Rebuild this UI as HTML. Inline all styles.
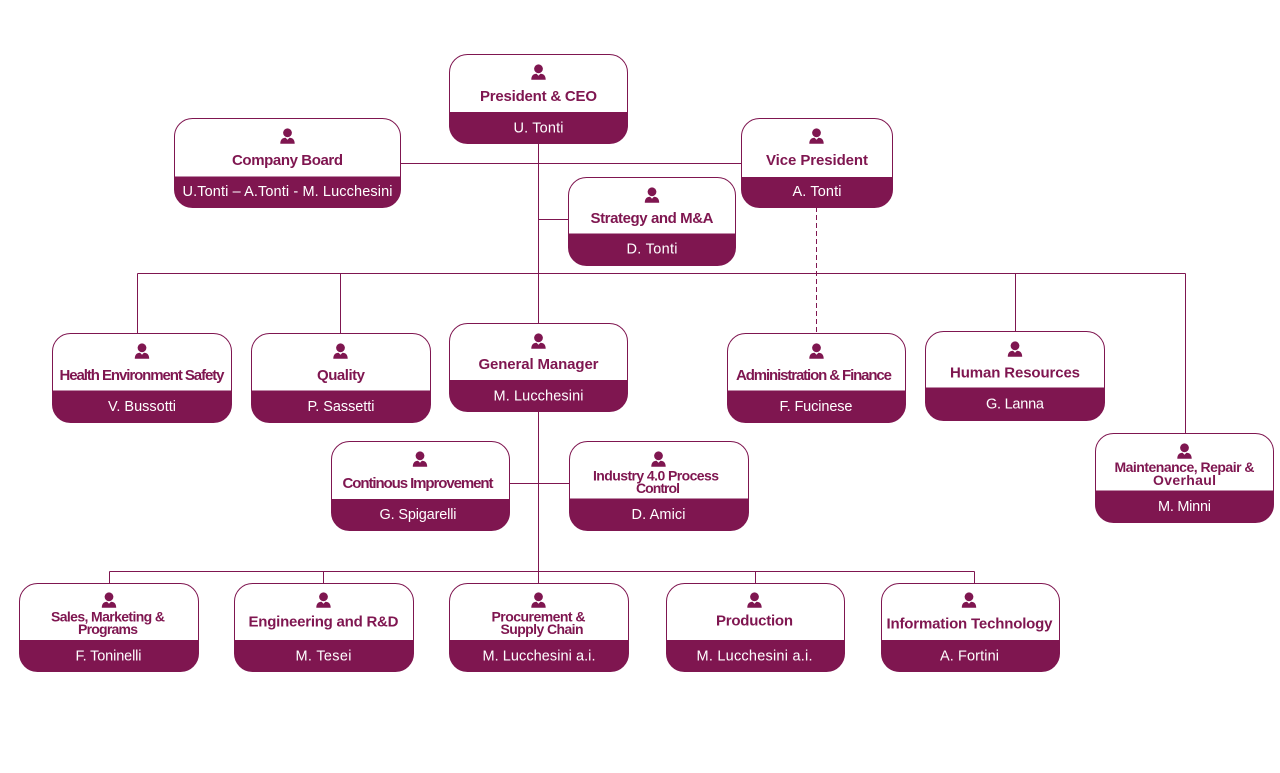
<!DOCTYPE html>
<html><head><meta charset="utf-8"><style>
html,body{margin:0;padding:0;background:#fff;}
svg{display:block;}
text{font-family:"Liberation Sans",Arial,sans-serif;}
.t{font-weight:bold;fill:#7f1650;font-size:15px;}
.t2{font-weight:bold;fill:#7f1650;font-size:14px;}
.n{fill:#fff;font-size:14.5px;}
</style></head><body>
<svg width="1280" height="773" viewBox="0 0 1280 773" xmlns="http://www.w3.org/2000/svg">
<defs>
<g id="ic">
<circle cx="7.5" cy="4.3" r="4.4" fill="#7f1650"/>
<path d="M0.3,15.2 C0.3,11 2.5,9.3 5.6,9.3 L7.5,11.2 L9.4,9.3 C12.5,9.3 14.7,11 14.7,15.2 Z" fill="#7f1650"/>
</g>
</defs>
<g stroke="#7f1650" stroke-width="1" fill="none">
<path d="M538.5,143 V571.5"/>
<path d="M400,163.5 H741"/>
<path d="M538.5,219.5 H568"/>
<path d="M137.5,273.5 H1185.5"/>
<path d="M137.5,273.5 V333 M340.5,273.5 V333 M1015.5,273.5 V331 M1185.5,273.5 V433"/>
<path d="M816.5,207 V333" stroke-dasharray="5,3"/>
<path d="M509,483.5 H569"/>
<path d="M109.5,571.5 H974.5 M109.5,571.5 V583 M323.5,571.5 V583 M538.5,571.5 V583 M755.5,571.5 V583 M974.5,571.5 V583"/>
</g>

<!-- CEO -->
<g>
<rect x="449.5" y="54.5" width="178" height="89" rx="18" fill="#fff" stroke="#7f1650"/>
<path d="M449.5,112 H627.5 V125.5 A18,18 0 0 1 609.5,143.5 H467.5 A18,18 0 0 1 449.5,125.5 Z" fill="#7f1650"/>
<use href="#ic" x="531" y="64.5"/>
<text class="t" x="538.5" y="101" text-anchor="middle" textLength="117" lengthAdjust="spacing">President &amp; CEO</text>
<text class="n" x="538.5" y="132.5" text-anchor="middle" textLength="50" lengthAdjust="spacing">U. Tonti</text>
</g>
<!-- Company Board -->
<g>
<rect x="174.5" y="118.5" width="226" height="89" rx="18" fill="#fff" stroke="#7f1650"/>
<path d="M174.5,176.5 H400.5 V189.5 A18,18 0 0 1 382.5,207.5 H192.5 A18,18 0 0 1 174.5,189.5 Z" fill="#7f1650"/>
<use href="#ic" x="280" y="128.5"/>
<text class="t" x="287.5" y="165" text-anchor="middle" textLength="111" lengthAdjust="spacing">Company Board</text>
<text class="n" x="287.5" y="196" text-anchor="middle" textLength="210" lengthAdjust="spacing">U.Tonti – A.Tonti - M. Lucchesini</text>
</g>
<!-- Vice President -->
<g>
<rect x="741.5" y="118.5" width="151" height="89" rx="18" fill="#fff" stroke="#7f1650"/>
<path d="M741.5,177 H892.5 V189.5 A18,18 0 0 1 874.5,207.5 H759.5 A18,18 0 0 1 741.5,189.5 Z" fill="#7f1650"/>
<use href="#ic" x="809" y="128.5"/>
<text class="t" x="817" y="165" text-anchor="middle" textLength="102" lengthAdjust="spacing">Vice President</text>
<text class="n" x="817" y="196" text-anchor="middle" textLength="49" lengthAdjust="spacing">A. Tonti</text>
</g>
<!-- Strategy -->
<g>
<rect x="568.5" y="177.5" width="167" height="88" rx="18" fill="#fff" stroke="#7f1650"/>
<path d="M568.5,233.5 H735.5 V247.5 A18,18 0 0 1 717.5,265.5 H586.5 A18,18 0 0 1 568.5,247.5 Z" fill="#7f1650"/>
<use href="#ic" x="644.5" y="187.5"/>
<text class="t" x="652" y="223" text-anchor="middle" textLength="123" lengthAdjust="spacing">Strategy and M&amp;A</text>
<text class="n" x="652" y="253.5" text-anchor="middle" textLength="51" lengthAdjust="spacing">D. Tonti</text>
</g>
<!-- HES -->
<g>
<rect x="52.5" y="333.5" width="179" height="89" rx="18" fill="#fff" stroke="#7f1650"/>
<path d="M52.5,390.5 H231.5 V404.5 A18,18 0 0 1 213.5,422.5 H70.5 A18,18 0 0 1 52.5,404.5 Z" fill="#7f1650"/>
<use href="#ic" x="134.5" y="343.5"/>
<text class="t" x="142" y="380" text-anchor="middle" textLength="165" lengthAdjust="spacing">Health Environment Safety</text>
<text class="n" x="142" y="411" text-anchor="middle" textLength="68" lengthAdjust="spacing">V. Bussotti</text>
</g>
<!-- Quality -->
<g>
<rect x="251.5" y="333.5" width="179" height="89" rx="18" fill="#fff" stroke="#7f1650"/>
<path d="M251.5,390.5 H430.5 V404.5 A18,18 0 0 1 412.5,422.5 H269.5 A18,18 0 0 1 251.5,404.5 Z" fill="#7f1650"/>
<use href="#ic" x="333" y="343.5"/>
<text class="t" x="341" y="380" text-anchor="middle" textLength="48" lengthAdjust="spacing">Quality</text>
<text class="n" x="341" y="411" text-anchor="middle" textLength="67" lengthAdjust="spacing">P. Sassetti</text>
</g>
<!-- General Manager -->
<g>
<rect x="449.5" y="323.5" width="178" height="88" rx="18" fill="#fff" stroke="#7f1650"/>
<path d="M449.5,380 H627.5 V393.5 A18,18 0 0 1 609.5,411.5 H467.5 A18,18 0 0 1 449.5,393.5 Z" fill="#7f1650"/>
<use href="#ic" x="531" y="333.5"/>
<text class="t" x="538.5" y="369" text-anchor="middle" textLength="120" lengthAdjust="spacing">General Manager</text>
<text class="n" x="538.5" y="400.5" text-anchor="middle" textLength="90" lengthAdjust="spacing">M. Lucchesini</text>
</g>
<!-- Admin -->
<g>
<rect x="727.5" y="333.5" width="178" height="89" rx="18" fill="#fff" stroke="#7f1650"/>
<path d="M727.5,390.5 H905.5 V404.5 A18,18 0 0 1 887.5,422.5 H745.5 A18,18 0 0 1 727.5,404.5 Z" fill="#7f1650"/>
<use href="#ic" x="809" y="343.5"/>
<text class="t" x="814" y="380" text-anchor="middle" textLength="156" lengthAdjust="spacing">Administration  &amp; Finance</text>
<text class="n" x="816" y="411" text-anchor="middle" textLength="73" lengthAdjust="spacing">F. Fucinese</text>
</g>
<!-- HR -->
<g>
<rect x="925.5" y="331.5" width="179" height="89" rx="18" fill="#fff" stroke="#7f1650"/>
<path d="M925.5,387.5 H1104.5 V402.5 A18,18 0 0 1 1086.5,420.5 H943.5 A18,18 0 0 1 925.5,402.5 Z" fill="#7f1650"/>
<use href="#ic" x="1007.5" y="341.5"/>
<text class="t" x="1015" y="377.5" text-anchor="middle" textLength="130" lengthAdjust="spacing">Human Resources</text>
<text class="n" x="1015" y="408.5" text-anchor="middle" textLength="58" lengthAdjust="spacing">G. Lanna</text>
</g>
<!-- MRO -->
<g>
<rect x="1095.5" y="433.5" width="178" height="89" rx="18" fill="#fff" stroke="#7f1650"/>
<path d="M1095.5,490.5 H1273.5 V504.5 A18,18 0 0 1 1255.5,522.5 H1113.5 A18,18 0 0 1 1095.5,504.5 Z" fill="#7f1650"/>
<use href="#ic" x="1177" y="443.5"/>
<text class="t2" x="1184.5" y="472" text-anchor="middle" textLength="140" lengthAdjust="spacing">Maintenance, Repair &amp;</text>
<text class="t2" x="1184.5" y="485" text-anchor="middle" textLength="63" lengthAdjust="spacing">Overhaul</text>
<text class="n" x="1184.5" y="511" text-anchor="middle" textLength="53" lengthAdjust="spacing">M. Minni</text>
</g>
<!-- CI -->
<g>
<rect x="331.5" y="441.5" width="178" height="89" rx="18" fill="#fff" stroke="#7f1650"/>
<path d="M331.5,499 H509.5 V512.5 A18,18 0 0 1 491.5,530.5 H349.5 A18,18 0 0 1 331.5,512.5 Z" fill="#7f1650"/>
<use href="#ic" x="412.5" y="451.5"/>
<text class="t" x="418" y="488" text-anchor="middle" textLength="151" lengthAdjust="spacing">Continous Improvement</text>
<text class="n" x="418" y="519" text-anchor="middle" textLength="77" lengthAdjust="spacing">G. Spigarelli</text>
</g>
<!-- Industry -->
<g>
<rect x="569.5" y="441.5" width="179" height="89" rx="18" fill="#fff" stroke="#7f1650"/>
<path d="M569.5,498.5 H748.5 V512.5 A18,18 0 0 1 730.5,530.5 H587.5 A18,18 0 0 1 569.5,512.5 Z" fill="#7f1650"/>
<use href="#ic" x="651" y="451.5"/>
<text class="t2" x="656" y="480.5" text-anchor="middle" textLength="126" lengthAdjust="spacing">Industry  4.0 Process</text>
<text class="t2" x="658" y="493" text-anchor="middle" textLength="44" lengthAdjust="spacing">Control</text>
<text class="n" x="658.5" y="519" text-anchor="middle" textLength="54" lengthAdjust="spacing">D. Amici</text>
</g>
<!-- Sales -->
<g>
<rect x="19.5" y="583.5" width="179" height="88" rx="18" fill="#fff" stroke="#7f1650"/>
<path d="M19.5,640 H198.5 V653.5 A18,18 0 0 1 180.5,671.5 H37.5 A18,18 0 0 1 19.5,653.5 Z" fill="#7f1650"/>
<use href="#ic" x="101.5" y="592.5"/>
<text class="t2" x="108" y="621.5" text-anchor="middle" textLength="114" lengthAdjust="spacing">Sales, Marketing &amp;</text>
<text class="t2" x="108" y="634" text-anchor="middle" textLength="60" lengthAdjust="spacing">Programs</text>
<text class="n" x="108.5" y="660.5" text-anchor="middle" textLength="66" lengthAdjust="spacing">F. Toninelli</text>
</g>
<!-- Eng -->
<g>
<rect x="234.5" y="583.5" width="179" height="88" rx="18" fill="#fff" stroke="#7f1650"/>
<path d="M234.5,640 H413.5 V653.5 A18,18 0 0 1 395.5,671.5 H252.5 A18,18 0 0 1 234.5,653.5 Z" fill="#7f1650"/>
<use href="#ic" x="316" y="592.5"/>
<text class="t" x="323.5" y="626.5" text-anchor="middle" textLength="150" lengthAdjust="spacing">Engineering and R&amp;D</text>
<text class="n" x="323.5" y="660.5" text-anchor="middle" textLength="56" lengthAdjust="spacing">M. Tesei</text>
</g>
<!-- Procurement -->
<g>
<rect x="449.5" y="583.5" width="179" height="88" rx="18" fill="#fff" stroke="#7f1650"/>
<path d="M449.5,640 H628.5 V653.5 A18,18 0 0 1 610.5,671.5 H467.5 A18,18 0 0 1 449.5,653.5 Z" fill="#7f1650"/>
<use href="#ic" x="531" y="592.5"/>
<text class="t2" x="538.5" y="621.5" text-anchor="middle" textLength="94" lengthAdjust="spacing">Procurement &amp;</text>
<text class="t2" x="542" y="634" text-anchor="middle" textLength="83" lengthAdjust="spacing">Supply Chain</text>
<text class="n" x="539" y="660.5" text-anchor="middle" textLength="113" lengthAdjust="spacing">M. Lucchesini a.i.</text>
</g>
<!-- Production -->
<g>
<rect x="666.5" y="583.5" width="178" height="88" rx="18" fill="#fff" stroke="#7f1650"/>
<path d="M666.5,640 H844.5 V653.5 A18,18 0 0 1 826.5,671.5 H684.5 A18,18 0 0 1 666.5,653.5 Z" fill="#7f1650"/>
<use href="#ic" x="747" y="592.5"/>
<text class="t" x="754.5" y="625.5" text-anchor="middle" textLength="77" lengthAdjust="spacing">Production</text>
<text class="n" x="754.5" y="660.5" text-anchor="middle" textLength="116" lengthAdjust="spacing">M. Lucchesini a.i.</text>
</g>
<!-- IT -->
<g>
<rect x="881.5" y="583.5" width="178" height="88" rx="18" fill="#fff" stroke="#7f1650"/>
<path d="M881.5,640 H1059.5 V653.5 A18,18 0 0 1 1041.5,671.5 H899.5 A18,18 0 0 1 881.5,653.5 Z" fill="#7f1650"/>
<use href="#ic" x="961.5" y="592.5"/>
<text class="t" x="969.5" y="628.5" text-anchor="middle" textLength="166" lengthAdjust="spacing">Information Technology</text>
<text class="n" x="969.5" y="660.5" text-anchor="middle" textLength="59" lengthAdjust="spacing">A. Fortini</text>
</g>
</svg>
</body></html>
